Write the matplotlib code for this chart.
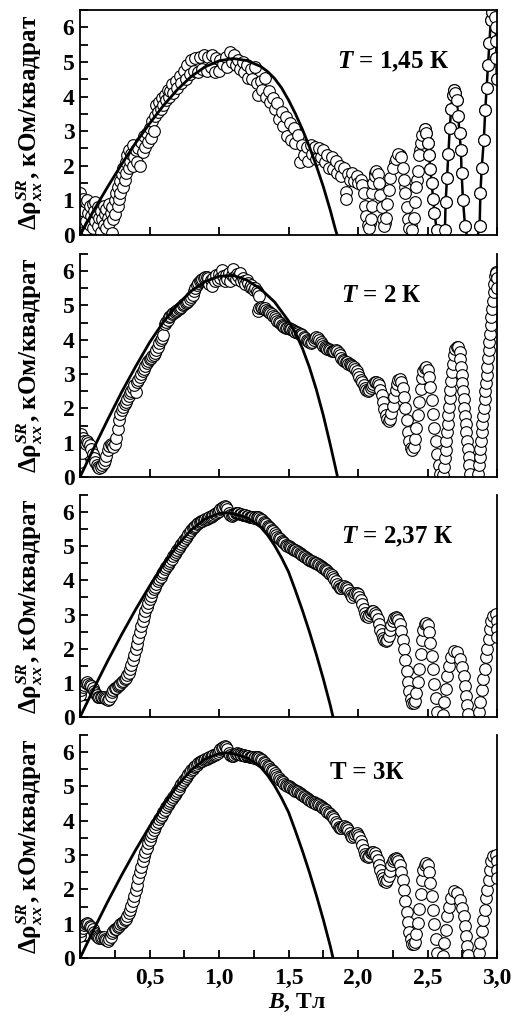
import numpy as np
import matplotlib.pyplot as plt
from matplotlib.ticker import MultipleLocator, FuncFormatter

plt.rcParams['font.family'] = ['Liberation Serif', 'DejaVu Serif']
plt.rcParams['font.weight'] = 'bold'
plt.rcParams['mathtext.fontset'] = 'custom'
plt.rcParams['mathtext.rm'] = 'Liberation Serif:bold'
plt.rcParams['mathtext.it'] = 'Liberation Serif:italic:bold'
plt.rcParams['mathtext.bf'] = 'Liberation Serif:bold'

# ---- data: B (Тл), delta rho (кОм/квадрат) ----

# T = 1,45 K
b_145 = [0.00, 0.00, 0.01, 0.01, 0.02, 0.02, 0.03, 0.04, 0.04, 0.05, 0.05, 0.06, 0.07, 0.07, 0.08, 0.09,
         0.09, 0.10, 0.11, 0.11, 0.12, 0.13, 0.13, 0.14, 0.15, 0.15, 0.16, 0.17, 0.17, 0.18, 0.19, 0.19,
         0.20, 0.21, 0.21, 0.22, 0.23, 0.23, 0.24, 0.25, 0.25, 0.26, 0.27, 0.27, 0.28, 0.29, 0.29, 0.30,
         0.31, 0.31, 0.32, 0.33, 0.33, 0.34, 0.35, 0.35, 0.36, 0.37, 0.38, 0.38, 0.39, 0.40, 0.41, 0.42,
         0.43, 0.44, 0.45, 0.46, 0.47, 0.48, 0.49, 0.50, 0.51, 0.52, 0.53, 0.54, 0.55, 0.56, 0.57, 0.58,
         0.59, 0.60, 0.61, 0.62, 0.63, 0.64, 0.65, 0.66, 0.67, 0.69, 0.70, 0.72, 0.73, 0.75, 0.76, 0.77,
         0.79, 0.80, 0.82, 0.83, 0.85, 0.86, 0.88, 0.89, 0.91, 0.92, 0.94, 0.95, 0.97, 0.98, 1.00, 1.01,
         1.03, 1.05, 1.06, 1.08, 1.09, 1.11, 1.12, 1.14, 1.15, 1.17, 1.18, 1.20, 1.21, 1.23, 1.24, 1.26,
         1.27, 1.28, 1.30, 1.31, 1.33, 1.34, 1.36, 1.37, 1.39, 1.40, 1.42, 1.43, 1.45, 1.46, 1.48, 1.49,
         1.51, 1.52, 1.54, 1.55, 1.57, 1.58, 1.60, 1.61, 1.63, 1.64, 1.66, 1.67, 1.69, 1.70, 1.72, 1.73,
         1.75, 1.76, 1.78, 1.79, 1.81, 1.82, 1.84, 1.85, 1.87, 1.88, 1.90, 1.91, 1.91, 1.93, 1.94, 1.96,
         1.97, 1.99, 2.00, 2.02, 2.03,
         2.085, 2.125, 2.195, 2.30, 2.38, 2.425, 2.445, 2.335, 2.265, 2.155,
         2.04, 2.05, 2.06, 2.07, 2.08, 2.09, 2.10, 2.10, 2.11, 2.12, 2.13, 2.14, 2.15, 2.16, 2.17, 2.18,
         2.19, 2.20, 2.21, 2.22, 2.23, 2.25, 2.27, 2.29, 2.31, 2.32, 2.33, 2.34, 2.35, 2.36, 2.37, 2.39,
         2.40, 2.41, 2.42, 2.43, 2.44, 2.45, 2.46,
         2.48, 2.49, 2.50, 2.51, 2.52, 2.53, 2.54, 2.55, 2.565, 2.60, 2.625, 2.63, 2.64, 2.65, 2.66, 2.67,
         2.68, 2.69, 2.70, 2.71, 2.72, 2.73, 2.74, 2.745, 2.755, 2.77, 2.82, 2.875, 2.88, 2.89, 2.905, 2.915,
         2.925, 2.935, 2.945, 2.955, 2.965, 2.985, 2.99, 2.995, 2.995, 2.998]
r_145 = [0.55, 1.20, 0.85, 0.30, 1.05, 0.10, 0.70, 0.95, 0.40, 1.00, 0.15, 0.65, 0.85, 0.30, 0.55, 0.90,
         0.20, 0.70, 0.40, 0.95, 0.60, 0.25, 0.80, 0.50, 0.70, 0.10, 0.45, 0.85, 0.30, 0.60, 0.75, 0.20,
         0.50, 0.90, 0.35, 0.65, 0.05, 0.80, 0.45, 1.00, 0.60, 1.20, 0.85, 1.40, 1.05, 1.55, 1.20, 1.75,
         1.40, 1.95, 1.60, 2.10, 1.80, 2.30, 1.95, 2.45, 2.15, 2.35, 2.00, 2.60, 2.25, 2.45, 2.10, 2.50,
         2.00, 2.70, 2.40, 2.85, 2.55, 2.95, 2.70, 3.10, 2.80, 3.30, 3.00, 3.45, 3.75, 3.55, 3.85, 3.65,
         3.95, 3.75, 4.05, 3.90, 4.20, 4.00, 4.15, 4.35, 4.10, 4.45, 4.25, 4.60, 4.40, 4.75, 4.50, 4.90,
         4.65, 5.05, 4.75, 5.10, 4.70, 5.15, 4.80, 5.20, 4.75, 5.15, 4.85, 5.20, 4.70, 5.10, 4.75, 5.05,
         4.95, 5.15, 4.85, 5.30, 5.00, 5.20, 4.90, 5.05, 4.80, 5.00, 4.70, 4.90, 4.55, 4.80, 4.50, 4.85,
         4.40, 4.05, 4.45, 4.20, 4.55, 4.00, 4.15, 3.85, 3.95, 3.65, 3.80, 3.35, 3.55, 3.15, 3.40, 2.85,
         3.25, 2.75, 3.10, 2.65, 2.90, 2.10, 2.60, 2.30, 2.55, 2.15, 2.60, 2.35, 2.55, 2.20, 2.50, 2.25,
         2.45, 2.10, 2.30, 1.95, 2.25, 1.90, 2.15, 1.80, 2.00, 1.70, 1.95, 1.25, 1.05, 1.75, 1.60, 1.80,
         1.55, 1.70, 1.50, 1.60, 1.45,
         0.35, 1.80, 0.35, 2.30, 0.25, 1.60, 2.45, 1.40, 2.10, 1.40,
         1.20, 0.85, 0.55, 0.30, 0.20, 0.45, 0.85, 1.20, 1.50, 1.70, 1.85, 1.75, 1.50, 1.15, 0.80, 0.45,
         0.25, 0.50, 0.90, 1.30, 1.65, 1.95, 2.20, 2.35, 2.25, 1.95, 1.60, 1.20, 0.80, 0.45, 0.20, 0.15,
         0.50, 0.95, 1.40, 1.85, 2.30, 2.65, 2.90,
         3.05, 2.95, 2.65, 2.30, 1.90, 1.50, 1.05, 0.65, 0.15, -0.80, 0.15, 0.95, 1.65, 2.35, 3.10, 3.65,
         4.05, 4.20, 4.10, 3.90, 3.45, 2.95, 2.45, 1.80, 1.00, 0.25, -0.80, 0.25, 1.20, 1.95, 2.75, 3.60,
         4.25, 4.90, 5.55, 6.20, 6.45, 6.30, 6.00, 5.60, 5.10, 4.50]

# T = 2 K
b_2 = [0.00, 0.00, 0.01, 0.015, 0.02, 0.03, 0.04, 0.05, 0.06, 0.07, 0.08, 0.09, 0.10, 0.11, 0.12, 0.13,
       0.14, 0.15, 0.16, 0.17, 0.18, 0.19, 0.20, 0.21, 0.22, 0.23, 0.24, 0.25, 0.26, 0.27, 0.28, 0.29,
       0.30, 0.31, 0.32, 0.33, 0.34, 0.35, 0.36, 0.37, 0.38, 0.40, 0.39, 0.41, 0.42, 0.43, 0.44, 0.45,
       0.46, 0.47, 0.48, 0.49, 0.50, 0.51, 0.52, 0.53, 0.54, 0.55, 0.56, 0.57, 0.58, 0.59, 0.60,
       0.61, 0.62, 0.63, 0.64, 0.65, 0.66, 0.67, 0.68, 0.69, 0.70, 0.71, 0.72, 0.73, 0.74, 0.75, 0.76,
       0.77, 0.78, 0.79, 0.80, 0.81, 0.82, 0.83, 0.84, 0.85, 0.86, 0.87, 0.88, 0.89, 0.90, 0.91, 0.92,
       0.93, 0.94, 0.95, 0.96, 0.97, 0.98, 0.99, 1.00, 1.01, 1.02, 1.03, 1.04, 1.05, 1.06, 1.07, 1.08,
       1.09, 1.10, 1.11, 1.12, 1.13, 1.14, 1.15, 1.16, 1.17, 1.18, 1.19, 1.20, 1.21, 1.22, 1.23, 1.24,
       1.25, 1.26, 1.27, 1.28, 1.29,
       1.28, 1.29, 1.30, 1.31, 1.32, 1.33, 1.34, 1.35, 1.36, 1.37, 1.38, 1.39, 1.40, 1.41, 1.42, 1.43,
       1.44, 1.45, 1.46, 1.47, 1.48, 1.49, 1.50, 1.51, 1.52, 1.53, 1.54, 1.55, 1.56, 1.57, 1.58, 1.59,
       1.60, 1.61, 1.62, 1.63, 1.64, 1.65, 1.66, 1.67, 1.68, 1.69, 1.70, 1.71, 1.72, 1.73, 1.74, 1.75,
       1.76, 1.77, 1.78, 1.79, 1.80, 1.81, 1.82, 1.83, 1.84, 1.85, 1.86, 1.87, 1.88, 1.89, 1.90, 1.91,
       1.92, 1.93, 1.94, 1.95, 1.96, 1.97, 1.98, 1.99, 2.00, 2.01, 2.02, 2.03, 2.04, 2.05, 2.06, 2.07,
       2.08, 2.09, 2.10, 2.11, 2.12, 2.13, 2.14, 2.15, 2.16, 2.17, 2.18, 2.19, 2.20, 2.21, 2.22, 2.23,
       2.24, 2.25, 2.26, 2.27, 2.28, 2.29, 2.30, 2.31, 2.32, 2.33, 2.34, 2.35, 2.36, 2.37, 2.38, 2.39,
       2.40, 2.41, 2.42, 2.43, 2.44, 2.45, 2.46, 2.47, 2.48, 2.49, 2.50, 2.51, 2.52, 2.53, 2.54, 2.55,
       2.56, 2.57, 2.58, 2.59,
       2.61, 2.62, 2.625, 2.63, 2.635, 2.64, 2.645, 2.65, 2.655, 2.66, 2.665, 2.67, 2.675, 2.68, 2.69, 2.70,
       2.71, 2.72, 2.73, 2.735, 2.74, 2.745, 2.75, 2.755, 2.76, 2.765, 2.77, 2.775, 2.78, 2.785, 2.79, 2.795,
       2.80, 2.805,
       2.865, 2.87, 2.875, 2.88, 2.885, 2.89, 2.895, 2.90, 2.905, 2.91, 2.915, 2.92, 2.925, 2.93, 2.935, 2.94,
       2.945, 2.95, 2.955, 2.96, 2.965, 2.97, 2.975, 2.98, 2.985, 2.99, 2.995, 3.00, 3.00]
r_2 = [0.45, 0.95, 1.25, 0.70, 1.15, 1.05, 0.95, 1.05, 1.00, 0.92, 0.82, 0.68, 0.55, 0.45, 0.36, 0.30,
       0.26, 0.28, 0.34, 0.42, 0.50, 0.62, 0.78, 0.90, 0.95, 0.92, 0.88, 0.95, 1.15, 1.40, 1.65, 1.85,
       1.95, 2.05, 2.12, 2.20, 2.28, 2.36, 2.44, 2.52, 2.60, 2.48, 2.68, 2.76, 2.84, 2.92, 3.00, 3.08,
       3.16, 3.24, 3.32, 3.38, 3.44, 3.48, 3.52, 3.56, 3.62, 3.70, 3.80, 3.90, 3.98, 4.06, 4.14,
       4.45, 4.52, 4.58, 4.65, 4.70, 4.74, 4.78, 4.82, 4.85, 4.88, 4.91, 4.94, 4.97, 5.00, 5.03, 5.06,
       5.10, 5.14, 5.18, 5.24, 5.32, 5.42, 5.52, 5.60, 5.66, 5.71, 5.75, 5.78, 5.80, 5.82, 5.82, 5.80,
       5.62, 5.75, 5.58, 5.80, 5.70, 5.88, 5.75, 5.92, 5.80, 6.02, 5.85, 5.70, 5.90, 5.78, 5.95, 5.72,
       5.88, 6.05, 5.82, 5.76, 5.92, 5.85, 5.95, 5.70, 5.80, 5.72, 5.62, 5.75, 5.66, 5.55, 5.60, 5.52,
       5.45, 5.50, 5.42, 5.35, 5.28,
       4.85, 4.92, 4.95, 4.93, 4.90, 4.92, 4.88, 4.83, 4.80, 4.78, 4.74, 4.70, 4.65, 4.60, 4.56, 4.52,
       4.48, 4.44, 4.40, 4.37, 4.35, 4.34, 4.33, 4.32, 4.30, 4.28, 4.26, 4.24, 4.22, 4.20, 4.18, 4.16,
       4.13, 4.08, 4.04, 4.00, 3.96, 3.93, 3.92, 3.95, 4.00, 4.05, 4.07, 4.05, 4.00, 3.94, 3.88, 3.82,
       3.78, 3.76, 3.74, 3.72, 3.70, 3.68, 3.66, 3.68, 3.70, 3.68, 3.62, 3.55, 3.48, 3.42, 3.38, 3.36,
       3.34, 3.30, 3.28, 3.26, 3.24, 3.20, 3.15, 3.08, 3.00, 2.92, 2.84, 2.76, 2.68, 2.60, 2.55, 2.52,
       2.54, 2.60, 2.66, 2.72, 2.76, 2.77, 2.75, 2.68, 2.55, 2.38, 2.18, 1.98, 1.80, 1.68, 1.64, 1.70,
       1.86, 2.08, 2.32, 2.55, 2.72, 2.82, 2.85, 2.78, 2.60, 2.32, 2.00, 1.66, 1.32, 1.04, 0.86, 0.80,
       0.88, 1.10, 1.42, 1.80, 2.20, 2.58, 2.88, 3.08, 3.18, 3.20, 3.12, 2.92, 2.62, 2.25, 1.85, 1.44,
       1.04, 0.68, 0.36, 0.10,
       0.05, 0.30, 0.55, 0.80, 1.05, 1.30, 1.55, 1.80, 2.05, 2.30, 2.55, 2.80, 3.05, 3.30, 3.55, 3.72,
       3.80, 3.78, 3.65, 3.45, 3.22, 2.98, 2.74, 2.50, 2.26, 2.02, 1.78, 1.54, 1.30, 1.06, 0.82, 0.58,
       0.34, 0.10,
       0.10, 0.34, 0.58, 0.82, 1.06, 1.30, 1.54, 1.78, 2.02, 2.26, 2.50, 2.74, 2.98, 3.22, 3.46, 3.70,
       3.94, 4.18, 4.42, 4.66, 4.90, 5.14, 5.38, 5.62, 5.85, 5.98, 5.95, 5.80, 5.50]

# T = 2,37 K and T = 3 K (the two curves coincide in the picture)
b_237 = [0.00, 0.00, 0.01, 0.02, 0.03, 0.04, 0.05, 0.06, 0.07, 0.08, 0.09, 0.10, 0.11, 0.12, 0.13, 0.14,
         0.15, 0.16, 0.17, 0.18, 0.19, 0.20, 0.21, 0.22, 0.23, 0.24, 0.25, 0.26, 0.27, 0.28, 0.29, 0.30,
         0.31, 0.32, 0.33, 0.34, 0.35, 0.36,
         0.37, 0.38, 0.39, 0.40, 0.41, 0.42, 0.43, 0.44, 0.45, 0.46, 0.47, 0.48, 0.49, 0.50, 0.51, 0.52,
         0.53, 0.54, 0.55, 0.56, 0.57, 0.58, 0.59, 0.60, 0.61, 0.62, 0.63, 0.64, 0.65, 0.66, 0.67, 0.68,
         0.69, 0.70, 0.71, 0.72, 0.73, 0.74, 0.75, 0.76, 0.77, 0.78, 0.79, 0.80, 0.81, 0.82, 0.83, 0.84,
         0.85, 0.86, 0.87, 0.88, 0.89, 0.90, 0.91, 0.92, 0.93, 0.94, 0.95, 0.96, 0.97, 0.98, 0.99, 1.00,
         1.01, 1.02, 1.03, 1.04, 1.05, 1.06, 1.07, 1.08, 1.09, 1.10, 1.11, 1.12, 1.13, 1.14, 1.15, 1.16,
         1.17, 1.18, 1.19, 1.20, 1.21, 1.22, 1.23, 1.24, 1.25, 1.26, 1.27, 1.28, 1.29, 1.30, 1.31, 1.32,
         1.33, 1.34, 1.35, 1.36, 1.37, 1.38, 1.39, 1.40, 1.41, 1.42, 1.43, 1.44, 1.45, 1.46, 1.47, 1.48,
         1.49, 1.50,
         1.51, 1.52, 1.53, 1.54, 1.55, 1.56, 1.57, 1.58, 1.59, 1.60, 1.61, 1.62, 1.63, 1.64, 1.65, 1.66,
         1.67, 1.68, 1.69, 1.70, 1.71, 1.72, 1.73, 1.74, 1.75, 1.76, 1.77, 1.78, 1.79, 1.80, 1.81, 1.82,
         1.83, 1.84, 1.85, 1.86, 1.87, 1.88, 1.89, 1.90, 1.91, 1.92, 1.93, 1.94, 1.95, 1.96, 1.97, 1.98,
         1.99, 2.00, 2.01, 2.02, 2.03, 2.04, 2.05, 2.06, 2.07, 2.08, 2.09, 2.10, 2.11, 2.12, 2.13, 2.14,
         2.15, 2.16, 2.17, 2.18, 2.19, 2.20, 2.21, 2.22, 2.23, 2.24, 2.25, 2.26, 2.27, 2.28, 2.29, 2.30,
         2.31, 2.32, 2.33, 2.34, 2.35, 2.36, 2.37, 2.38, 2.39, 2.40, 2.41, 2.42, 2.43, 2.44, 2.45, 2.46,
         2.47, 2.48, 2.49, 2.50, 2.51, 2.52, 2.53, 2.54, 2.55, 2.56, 2.57,
         2.61, 2.62, 2.63, 2.64, 2.655, 2.67, 2.69, 2.715, 2.73, 2.745, 2.76, 2.77, 2.78, 2.785, 2.79,
         2.87, 2.88, 2.89, 2.90, 2.91, 2.92, 2.93, 2.94, 2.95, 2.96, 2.97, 2.99, 3.00, 3.00, 3.00]
r_237 = [0.65, 0.90, 0.80, 0.88, 0.95, 1.00, 1.02, 0.98, 0.94, 0.90, 0.84, 0.76, 0.70, 0.64, 0.60, 0.58,
         0.58, 0.60, 0.60, 0.56, 0.52, 0.50, 0.54, 0.62, 0.72, 0.80, 0.84, 0.86, 0.90, 0.94, 0.98, 1.02,
         1.06, 1.10, 1.15, 1.22, 1.30, 1.40,
         1.52, 1.66, 1.82, 1.98, 2.14, 2.32, 2.50, 2.66, 2.82, 2.96, 3.10, 3.22, 3.34, 3.45, 3.55, 3.65,
         3.74, 3.82, 3.90, 3.97, 4.04, 4.11, 4.18, 4.25, 4.32, 4.39, 4.46, 4.52, 4.58, 4.64, 4.70, 4.76,
         4.82, 4.88, 4.94, 5.00, 5.06, 5.12, 5.18, 5.24, 5.30, 5.36, 5.42, 5.47, 5.52, 5.56, 5.60, 5.64,
         5.67, 5.70, 5.73, 5.75, 5.77, 5.79, 5.81, 5.83, 5.85, 5.87, 5.89, 5.91, 5.93, 5.96, 5.99, 6.03,
         6.08, 6.13, 6.16, 6.17, 6.15, 6.08, 5.98, 5.92, 5.88, 5.90, 5.93, 5.96, 5.97, 5.96, 5.94, 5.93,
         5.92, 5.91, 5.90, 5.89, 5.88, 5.87, 5.86, 5.85, 5.84, 5.85, 5.86, 5.86, 5.84, 5.80, 5.76, 5.72,
         5.68, 5.64, 5.60, 5.56, 5.52, 5.48, 5.44, 5.38, 5.33, 5.28, 5.24, 5.20, 5.16, 5.12, 5.08, 5.05,
         5.02, 5.00,
         4.98, 4.96, 4.93, 4.90, 4.88, 4.86, 4.84, 4.81, 4.78, 4.75, 4.72, 4.69, 4.66, 4.63, 4.60, 4.58,
         4.56, 4.54, 4.52, 4.50, 4.48, 4.46, 4.43, 4.40, 4.37, 4.34, 4.31, 4.27, 4.23, 4.19, 4.15, 4.10,
         4.04, 3.97, 3.90, 3.83, 3.78, 3.78, 3.82, 3.84, 3.82, 3.78, 3.72, 3.64, 3.56, 3.52, 3.56, 3.62,
         3.64, 3.60, 3.52, 3.42, 3.30, 3.16, 3.04, 2.96, 2.94, 2.98, 3.06, 3.10, 3.10, 3.06, 2.98, 2.86,
         2.72, 2.56, 2.42, 2.32, 2.25, 2.22, 2.26, 2.38, 2.54, 2.70, 2.82, 2.90, 2.92, 2.90, 2.84, 2.72,
         2.52, 2.26, 1.98, 1.66, 1.34, 1.04, 0.76, 0.54, 0.42, 0.40, 0.48, 0.70, 1.02, 1.42, 1.86, 2.26,
         2.56, 2.72, 2.76, 2.70, 2.50, 2.18, 1.80, 1.40, 0.98, 0.56, 0.16,
         0.05, 0.44, 0.83, 1.21, 1.50, 1.75, 1.94, 1.89, 1.70, 1.46, 1.21, 0.92, 0.63, 0.34, 0.10,
         0.15, 0.44, 0.78, 1.12, 1.41, 1.75, 1.99, 2.28, 2.57, 2.82, 2.96, 3.01, 2.82, 2.57, 2.33]

# fitted curves (solid lines)
fit_b_145 = [0.0, 0.1, 0.2, 0.3, 0.4, 0.5, 0.6, 0.7, 0.8, 0.9, 1.0, 1.1, 1.2, 1.3, 1.35, 1.4, 1.45, 1.5,
             1.55, 1.6, 1.65, 1.7, 1.75, 1.8, 1.84, 1.85]
fit_r_145 = [0.0, 0.72, 1.40, 2.05, 2.66, 3.22, 3.74, 4.20, 4.58, 4.86, 5.03, 5.10, 5.04, 4.87, 4.72, 4.52,
             4.25, 3.90, 3.50, 3.05, 2.55, 2.00, 1.40, 0.72, 0.12, 0.0]
fit_b_2 = [0.0, 0.1, 0.2, 0.3, 0.4, 0.5, 0.6, 0.7, 0.8, 0.9, 1.0, 1.1, 1.2, 1.3, 1.4, 1.5, 1.55, 1.6, 1.65,
           1.7, 1.75, 1.8, 1.85]
fit_r_2 = [0.0, 0.85, 1.68, 2.48, 3.22, 3.92, 4.52, 5.02, 5.42, 5.70, 5.85, 5.88, 5.74, 5.48, 5.10, 4.55,
           4.20, 3.75, 3.20, 2.55, 1.80, 0.95, 0.05]
fit_b_237 = [0.0, 0.1, 0.2, 0.3, 0.4, 0.5, 0.6, 0.7, 0.8, 0.9, 1.0, 1.05, 1.1, 1.2, 1.3, 1.35, 1.4, 1.45,
             1.5, 1.55, 1.6, 1.65, 1.7, 1.75, 1.8, 1.82]
fit_r_237 = [0.0, 0.84, 1.65, 2.42, 3.15, 3.83, 4.46, 5.02, 5.48, 5.80, 5.96, 5.98, 5.96, 5.84, 5.56, 5.32,
             5.02, 4.66, 4.25, 3.70, 3.12, 2.50, 1.83, 1.12, 0.35, 0.0]

labels = ['$T$ = 1,45 К', '$T$ = 2 К', '$T$ = 2,37 К', 'T = 3К']
label_pos = [(1.85, 5.0), (1.88, 5.3), (1.88, 5.27), (1.80, 5.4)]

panels = [(b_145, r_145, fit_b_145, fit_r_145),
          (b_2, r_2, fit_b_2, fit_r_2),
          (b_237, r_237, fit_b_237, fit_r_237),
          (b_237, r_237, fit_b_237, fit_r_237)]

rects = [[0.1533, 0.7698, 0.7989, 0.2204],
         [0.1533, 0.5328, 0.7989, 0.2184],
         [0.1533, 0.2977, 0.7989, 0.2175],
         [0.1533, 0.0617, 0.7989, 0.2184]]

fig = plt.figure(figsize=(5.22, 10.21), dpi=100)

for i, (bx, ry, fb, fr) in enumerate(panels):
    ax = fig.add_axes(rects[i])
    ax.plot(bx, ry, 'o', ms=8.4, mfc='white', mec='black', mew=0.8, ls='none', zorder=2)
    if i == 0:
        # last oscillations of the 1,45 K curve are joined by a line
        bb = np.array(bx)
        rr = np.array(ry)
        sel = bb >= 2.475
        ax.plot(bb[sel], rr[sel], '-', color='black', lw=1.8, zorder=1.5)
        ax.plot(bb[sel], rr[sel], 'o', ms=8.4, mfc='white', mec='black', mew=0.8, zorder=2.5)
    ax.plot(fb, fr, '-', color='black', lw=2.0, zorder=3)

    ax.set_xlim(0, 3.0)
    ax.set_ylim(0, 6.5)
    ax.xaxis.set_major_locator(MultipleLocator(0.5))
    ax.yaxis.set_major_locator(MultipleLocator(1))
    ax.yaxis.set_minor_locator(MultipleLocator(0.5))
    if i == 3:
        ax.xaxis.set_minor_locator(MultipleLocator(0.25))
        ax.xaxis.set_major_formatter(FuncFormatter(
            lambda v, p: '' if abs(v) < 1e-6 else f'{v:.1f}'.replace('.', ',')))
        ax.set_xlabel('$B$, Тл', fontsize=17, fontweight='bold')
        ax.xaxis.set_label_coords(0.52, -0.15)
    else:
        ax.set_xticklabels([])

    ax.tick_params(which='both', direction='in', length=6, width=1.3,
                   top=False, right=False, labelsize=17, pad=4)
    ax.tick_params(axis='x', pad=7)
    for lab in ax.get_xticklabels() + ax.get_yticklabels():
        lab.set_fontweight('bold')

    for s in ax.spines.values():
        s.set_linewidth(1.3)
    if i > 0:
        ax.spines['top'].set_visible(False)

    ax.set_ylabel('Δρ$_{xx}^{SR}$, кОм/квадрат', fontsize=18, fontweight='bold')
    ax.yaxis.set_label_coords(-0.083, 0.5)

    ax.text(label_pos[i][0], label_pos[i][1], labels[i], fontsize=18, fontweight='bold',
            ha='left', va='center')

fig.savefig('out.png', dpi=100)
